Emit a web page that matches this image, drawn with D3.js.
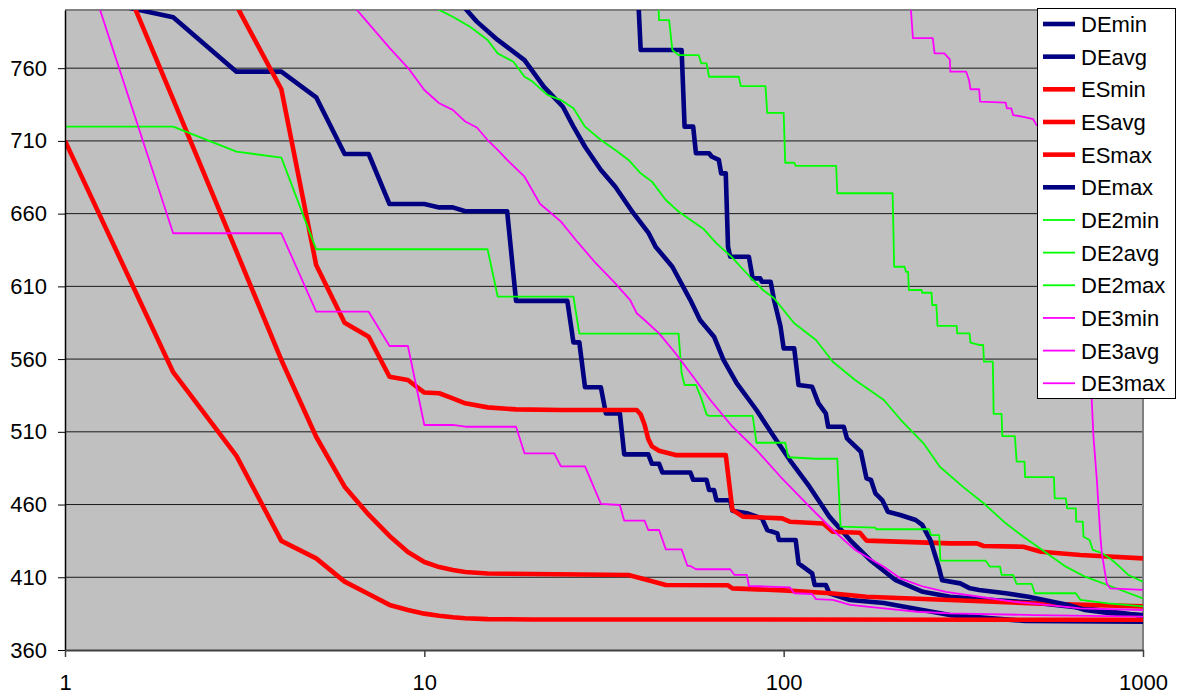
<!DOCTYPE html>
<html>
<head>
<meta charset="utf-8">
<script src="https://cdn.jsdelivr.net/npm/d3@7/dist/d3.min.js"></script>
<style>
  html, body { margin: 0; padding: 0; background: #ffffff; }
  svg { display: block; font-family: "Liberation Sans", Arial, sans-serif; }
</style>
</head>
<body>
<svg id="chart" width="1183" height="695"></svg>
<script>
// Best-so-far cost per generation, [generation, value]
const DEmin = [[1,811],[2,795],[3,757.6],[4,757.6],[5,740],[6,701],[7,701],[8,666.6],[10,666.6],[11,664.3],[12,664.3],[13,661.6],[17,661.6],[18,600],[25,600],[26,571.5],[27,571.5],[28,540.6],[31,540.6],[32,522.7],[35,522.7],[36,494.5],[42,494.5],[43,488],[45,488],[46,482],[55,482],[56,477],[61,477],[62,470],[64,470],[65,463],[71,463],[72,455.8],[79,454],[87,450.5],[90,442.5],[96,440.2],[97,435.6],[108,435.6],[110,419.6],[120,412.7],[122,404.7],[131,404.7],[134,399],[153,394.4],[190,392.3],[290,384],[470,380],[1000,379.5]];
const DEavg = [[1,900],[10,832],[12,810],[13,801],[14,792],[16,779.4],[19,765.6],[21.5,747.3],[24.3,733.5],[26,719.8],[28,706],[31,690],[34,678.5],[38,661],[42,647],[44,637.3],[49,623.5],[55,600.6],[58.5,586.9],[64,575.4],[68,559.4],[74,543.4],[84,525],[94,506.6],[104,490.6],[118,472.3],[134,451.7],[153,435.6],[174,421.9],[205,408],[244,400],[290,396.6],[400,394],[500,392.5],[700,388.5],[1000,383.5]];
const ESmin = [[1,710],[2,551],[3,493.5],[4,435],[5,423],[6,407],[7,398.5],[8,391],[9,387.5],[10,385],[11,383.5],[12,382.5],[13,381.8],[15,381.2],[20,381],[1000,380.8]];
const ESavg = [[1,916],[2,738.5],[3,634],[4,559.4],[5,506.6],[6,472.3],[7,453],[8,438.4],[9,427.4],[10,420.5],[11,417],[12,415],[13,413.6],[15,412.6],[20,412.2],[37,411.6],[42,408],[47,404.7],[70,404.5],[72,402.4],[100,401],[135,399],[170,396.6],[290,394.4],[500,392],[1000,390]];
const ESmax = [[1,950],[2,870],[3,803],[4,745.5],[5,624.7],[6,585],[7,575.4],[8,547.9],[9,545.6],[10,537],[11,536.5],[12,533],[13,529.6],[15,526.8],[18,525.4],[24,525],[39,525],[40,522],[41,515],[42,505],[43,500],[45,497],[50,494],[69,494],[72,456.3],[77,451.7],[99,450.5],[104,448.2],[129,447],[137,441.3],[163,440.6],[170,435.2],[290,433.3],[345,433.3],[360,431.5],[464,431],[520,427.6],[670,425.3],[1000,423]];
const DEmax = [[1,900],[39,830],[40,772.5],[52,772.5],[53,719.8],[56,719.8],[57,701.5],[62,701.5],[63,699.3],[66,697],[67,687.7],[69,687.7],[70,637.3],[71,630.4],[80,630.4],[82,615.5],[86,615.5],[87,613.2],[92,613.2],[94,600.6],[96,591.5],[98,582.3],[100,567.4],[107,567.4],[110,542.2],[120,541],[125,529.6],[131,522.7],[133,513.5],[147,513.5],[150,505.5],[164,496.3],[170,478],[175,476.9],[180,467.7],[188,463.1],[195,455.1],[211,452.8],[233,449.4],[243,446],[256,435.6],[270,417.3],[276,408],[310,405.8],[330,402.4],[350,401.3],[415,399],[480,396.6],[560,393.2],[620,391],[690,387.5],[820,385.2],[1000,384]];
const DE2min = [[1,719.8],[2,719.8],[3,702.6],[4,698.5],[5,635.5],[15,635.5],[16,603],[26,603],[27,577.5],[51,577.5],[52,550.2],[53,542.2],[57,542.2],[59,533],[61,522],[62,520.9],[82,520.9],[84,502.5],[101,502.5],[103,492.5],[123,491.5],[141,491.5],[144,444.8],[180,444.1],[181,443],[254,443],[257,439],[271,439],[273,421.4],[365,421.4],[375,417.3],[400,417.3],[404,411.6],[435,411.6],[445,405.4],[490,405.4],[500,399],[650,399],[670,394.4],[800,392.1],[1000,390]];
const DE2avg = [[1,860],[5,830],[10,805],[12,795.4],[13.4,788.5],[15,779.4],[16,770.2],[17.7,764.4],[19,754.1],[20,750.8],[22,741.6],[24,738.1],[26,732.4],[28,719.8],[31,710.6],[34,703.8],[37,696.9],[40,687.7],[43,682],[47,669.4],[51,661.4],[56,654.5],[60,649.2],[65,639.6],[71.5,630.4],[80.5,616.6],[87.6,607.5],[94,601.8],[107,584.6],[123,573.1],[137,558.2],[158,545.6],[190,531.9],[212,518.1],[245,502.1],[272,486],[315,472.3],[360,460.9],[415,447.1],[465,437.9],[540,426.5],[610,417.3],[690,410.4],[820,403.5],[1000,395.5]];
const DE2max = [[1,880],[44,850],[45,793],[48,793],[49,772.5],[51,769],[58,769],[59,763.3],[61,763.3],[62,754.1],[75,754.1],[76,747.7],[89,747.7],[90,729.3],[100,729.3],[101,695],[107,695],[108,692.8],[140,692.8],[141,674],[201,674],[203,623.5],[217,623.5],[219,620],[222,620],[223,607.5],[242,607.5],[243,605.6],[258,605.6],[259,597.2],[266,597.2],[268,582.8],[303,582.8],[304,577.7],[329,577.7],[331,571.3],[350,569.7],[359,569.7],[361,558.2],[382,558.2],[384,522.3],[404,522.3],[406,507.1],[440,507.1],[445,489.5],[468,489.5],[470,478.8],[565,478.8],[568,464.3],[610,464.3],[615,457.4],[650,457.4],[652,448.2],[680,448.2],[683,437.9],[710,435.6],[725,428.8],[770,426.5],[820,421.9],[860,417.3],[910,411.6],[1000,407]];
const DE3min = [[1,873.6],[2,646.5],[4,646.5],[5,592.6],[7,592.6],[8,569],[9,569],[10,514.7],[12,514.7],[13,513.5],[18,513.5],[19,495.2],[23,495.2],[24,486.3],[28,486.3],[31,460.4],[35,459.7],[36,448.9],[41,448.9],[42,442.5],[45,442.5],[47,429.2],[52,429.2],[54,417.8],[55,417.8],[57,415.5],[71,415.5],[73,411.6],[79,411.6],[80,404],[104,403.1],[107,399],[120,398.5],[123,395],[137,394.4],[153,391],[190,388.6],[235,386.3],[290,385.2],[500,384],[1000,383]];
const DE3avg = [[1,900],[6,810],[7,790.6],[8,774],[8.6,765.6],[9.1,758.8],[10,745],[11,735.9],[12,731.3],[13,723.3],[14,719.2],[15,710.6],[16,703.8],[17,696.9],[19,685.4],[21,666.6],[22,662.5],[24,654.5],[26.4,641.9],[30,625.9],[34,612.1],[37.4,600.6],[39,591.5],[41,586.9],[45,577.7],[50,564],[56,547.9],[62.5,531.9],[72,513.5],[84,497.5],[98,479.1],[118,458.5],[137,442.5],[158,428.8],[190,417.3],[211,409.3],[245,403.5],[283,400],[350,396.6],[435,393.2],[540,391],[670,388.6],[1000,387.5]];
const DE3max = [[1,900],[225,830],[226,800],[229,780.6],[260,780.6],[263,770.2],[280,770.2],[290,766],[291,757.6],[322,757.6],[328,751.9],[331,745.5],[350,745.5],[352,737],[415,736.3],[418,732.4],[430,732.4],[435,727.8],[465,726.6],[495,724.9],[505,721],[600,712],[690,700],[712,640],[720,531.9],[728,506.6],[744,476.9],[752,458.5],[760,440.2],[768,426.5],[779,417.3],[793,405.8],[810,402.4],[1000,401.3]];

const seriesNames = ["DEmin","DEavg","ESmin","ESavg","ESmax","DEmax","DE2min","DE2avg","DE2max","DE3min","DE3avg","DE3max"];
const seriesData  = [DEmin, DEavg, ESmin, ESavg, ESmax, DEmax, DE2min, DE2avg, DE2max, DE3min, DE3avg, DE3max];

const yTicks = [360, 410, 460, 510, 560, 610, 660, 710, 760];
const xTicks = [1, 10, 100, 1000];

// line styles per family
const styleOf = name => {
  if (name.startsWith("DE2")) return { color: "#00FF00", width: 1.8 };
  if (name.startsWith("DE3")) return { color: "#FF00FF", width: 1.8 };
  if (name.startsWith("ES"))  return { color: "#FF0000", width: 4.6 };
  return { color: "#000080", width: 4.6 };
};

const series = seriesNames.map((name, i) => ({ name, data: seriesData[i], ...styleOf(name) }));

const svg = d3.select("#chart");
const plot = { left: 65, right: 1143, top: 10, bottom: 650 };

const x = d3.scaleLog().domain([1, 1000]).range([plot.left, plot.right]);
const y = d3.scaleLinear().domain([360, 800]).range([plot.bottom, plot.top]);

// plot background
svg.append("rect")
  .attr("x", plot.left).attr("y", plot.top)
  .attr("width", plot.right - plot.left).attr("height", plot.bottom - plot.top)
  .attr("fill", "#C0C0C0");

// horizontal gridlines
svg.append("g").selectAll("line")
  .data(yTicks.filter(t => t > 360))
  .join("line")
  .attr("x1", plot.left).attr("x2", plot.right)
  .attr("y1", d => y(d)).attr("y2", d => y(d))
  .attr("stroke", "#1a1a1a").attr("stroke-width", 1);

// plot frame (top and right)
svg.append("path")
  .attr("d", `M${plot.left},${plot.top}H${plot.right}V${plot.bottom}`)
  .attr("fill", "none").attr("stroke", "#808080").attr("stroke-width", 2);

svg.append("clipPath").attr("id", "plotClip")
  .append("rect")
  .attr("x", plot.left).attr("y", plot.top)
  .attr("width", plot.right - plot.left).attr("height", plot.bottom - plot.top);

const line = d3.line().x(d => x(d[0])).y(d => y(d[1]));

svg.append("g").attr("clip-path", "url(#plotClip)")
  .selectAll("path")
  .data(series)
  .join("path")
  .attr("d", d => line(d.data))
  .attr("fill", "none")
  .attr("stroke", d => d.color)
  .attr("stroke-width", d => d.width)
  .attr("stroke-linejoin", "round");

// axes
const yAxis = d3.axisLeft(y).tickValues(yTicks).tickSize(7).tickSizeOuter(0).tickPadding(11);
const gy = svg.append("g").attr("transform", `translate(${plot.left},0)`).call(yAxis);
gy.select(".domain").attr("stroke", "#000").attr("stroke-width", 1.5);
gy.selectAll(".tick line").attr("stroke", "#000");
gy.selectAll(".tick text").attr("font-size", 22).attr("fill", "#000")
  .attr("font-family", "'Liberation Sans', Arial, sans-serif");

const xAxis = d3.axisBottom(x).tickValues(xTicks).tickFormat(d3.format("d"))
  .tickSize(7).tickSizeOuter(0).tickPadding(17);
const gx = svg.append("g").attr("transform", `translate(0,${plot.bottom})`).call(xAxis);
gx.select(".domain").attr("stroke", "#404040").attr("stroke-width", 2);
gx.selectAll(".tick line").attr("stroke", "#404040").attr("stroke-width", 1.5);
gx.selectAll(".tick text").attr("font-size", 22).attr("fill", "#000")
  .attr("font-family", "'Liberation Sans', Arial, sans-serif");

// legend
const legend = svg.append("g");
legend.append("rect")
  .attr("x", 1037.5).attr("y", 8.5).attr("width", 138).attr("height", 390)
  .attr("fill", "#ffffff").attr("stroke", "#000").attr("stroke-width", 1);

const item = legend.selectAll("g.item")
  .data(series)
  .join("g").attr("class", "item")
  .attr("transform", (d, i) => `translate(0,${24 + i * 32.66})`);
item.append("line")
  .attr("x1", 1043).attr("x2", 1075).attr("y1", 0).attr("y2", 0)
  .attr("stroke", d => d.color)
  .attr("stroke-width", d => d.width > 3 ? 4.6 : 1.8);
item.append("text")
  .attr("x", 1081).attr("y", 8)
  .attr("font-size", 22).attr("fill", "#000")
  .text(d => d.name);
</script>
</body>
</html>
